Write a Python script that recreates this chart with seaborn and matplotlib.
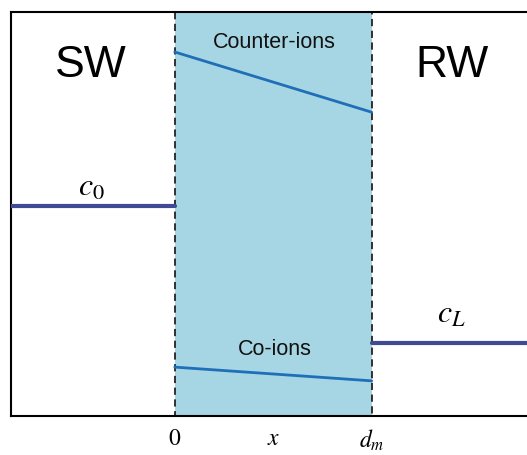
import matplotlib
matplotlib.use("Agg")
import matplotlib.pyplot as plt
import seaborn as sns
import pandas as pd

sns.set_theme(style="white")
plt.rcParams["font.family"] = ["Liberation Sans", "DejaVu Sans"]
plt.rcParams["mathtext.fontset"] = "stix"

# Positions across the cell (membrane spans 0..1)
region_left = -0.832
membrane = [0.0, 1.0]
region_right = 1.85

# Concentration levels (relative)
counter_ions = [0.901, 0.752]
co_ions = [0.121, 0.087]
c0_level = 0.52
cL_level = 0.181

tick_positions = [0.0, 0.5, 1.0]
tick_labels = ["$0$", "$x$", "$d_m$"]

profiles = pd.DataFrame({
    "x": membrane + membrane + [region_left, 0.0] + [1.0, region_right],
    "c": counter_ions + co_ions + [c0_level, c0_level] + [cL_level, cL_level],
    "series": ["Counter-ions"] * 2 + ["Co-ions"] * 2 + ["c0"] * 2 + ["cL"] * 2,
})

fig = plt.figure(figsize=(5.27, 4.56), dpi=100)
ax = fig.add_axes([11 / 527, 39 / 456, (539 - 11) / 527, 404 / 456])

# membrane region
ax.axvspan(membrane[0], membrane[1], ymin=0, ymax=1, facecolor="#a6d5e3",
           edgecolor="#222222", linestyle=(0, (4, 2.5)), linewidth=1.3, zorder=1)

palette = {"Counter-ions": "#1f6fb8", "Co-ions": "#1f6fb8",
           "c0": "#414a94", "cL": "#414a94"}
sizes = {"Counter-ions": 2.0, "Co-ions": 2.0, "c0": 3.0, "cL": 3.0}
sns.lineplot(data=profiles, x="x", y="c", hue="series", size="series",
             palette=palette, sizes=sizes, units="series", estimator=None,
             legend=False, ax=ax, zorder=3)

ax.set_xlim(region_left, region_right)
ax.set_ylim(0, 1)

ax.text(-0.426, 0.869, "SW", fontsize=32, ha="center", va="center", color="black")
ax.text(1.406, 0.869, "RW", fontsize=32, ha="center", va="center", color="black")
ax.text(0.508, 0.927, "Counter-ions", fontsize=15.5, ha="center", va="center", color="#111111")
ax.text(0.508, 0.166, "Co-ions", fontsize=15.5, ha="center", va="center", color="#111111")
ax.text(-0.421, 0.567, "$c_0$", fontsize=23, ha="center", va="center", color="black")
ax.text(1.406, 0.252, "$c_L$", fontsize=23, ha="center", va="center", color="black")

ax.set_xticks(tick_positions)
ax.set_xticklabels(tick_labels, fontsize=17, color="black")
ax.tick_params(axis="x", length=0, pad=8)
ax.set_yticks([])
ax.set_xlabel("")
ax.set_ylabel("")

for side in ["left", "bottom", "top", "right"]:
    ax.spines[side].set_visible(True)
    ax.spines[side].set_color("black")
    ax.spines[side].set_linewidth(1.5)

fig.savefig("out.png", dpi=100)
